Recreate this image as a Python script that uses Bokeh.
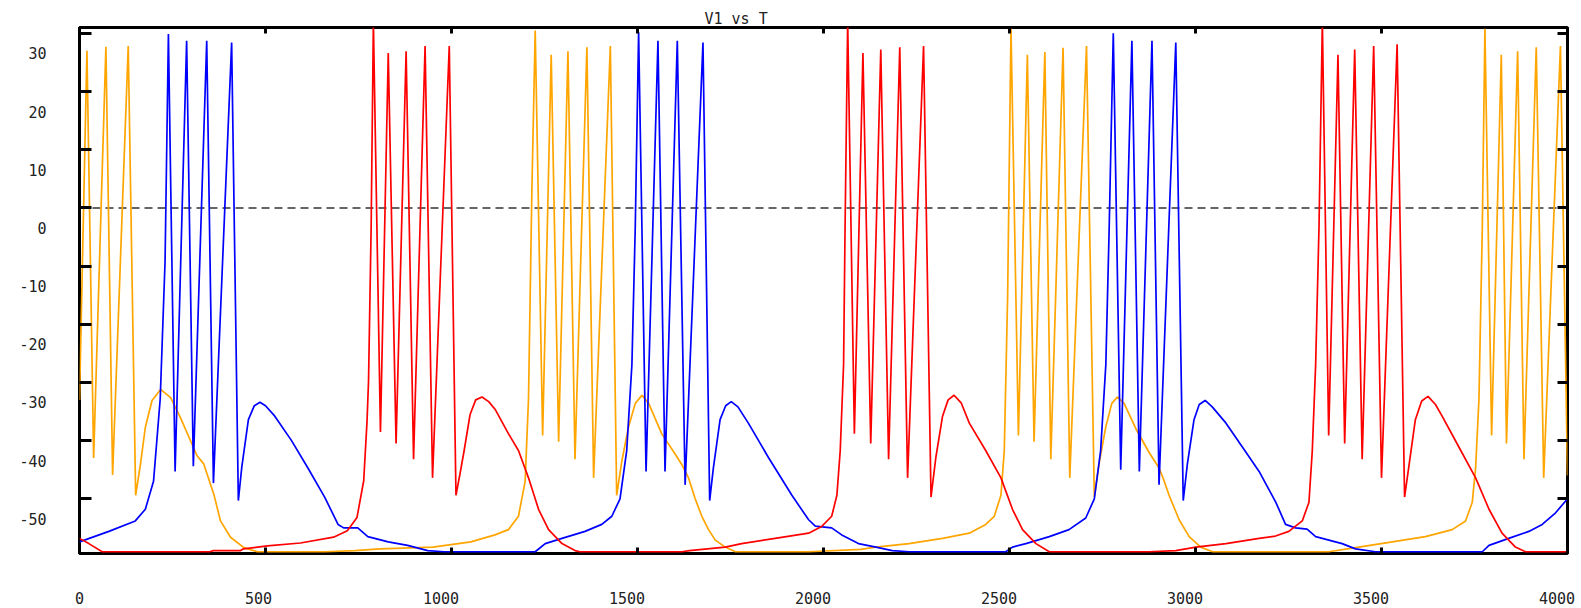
from bokeh.plotting import figure
from bokeh.models import LinearAxis, FixedTicker, Span, Range1d
from bokeh.embed import file_html
from bokeh.resources import INLINE

# ---- data ----
orange_t = [0, 20, 38, 71, 89, 131, 151, 164, 177, 195, 218, 245, 271, 316, 334, 361, 379, 406, 442, 478,
            660, 740, 808, 950, 1052, 1117, 1153, 1180, 1198, 1207, 1216,
            1225, 1245, 1268, 1288, 1313, 1332, 1364, 1382, 1427, 1444,
            1458, 1476, 1494, 1512, 1530, 1565, 1601, 1619, 1637, 1655, 1673, 1691, 1709, 1736, 1763,
            1960, 2100, 2141, 2230, 2320, 2392, 2436, 2459, 2477, 2486, 2495,
            2504, 2524, 2548, 2566, 2595, 2611, 2644, 2662, 2707, 2728,
            2742, 2759, 2775, 2790, 2808, 2840, 2875, 2902, 2915, 2929, 2956, 2983, 3014, 3046,
            3358, 3439, 3529, 3618, 3690, 3726, 3744, 3753, 3762, 3771,
            3778, 3796, 3822, 3836, 3866, 3883, 3916, 3936, 3981, 4000]
orange_v = [-33.0, 27.0, -43.0, 27.7, -45.9, 27.8, -49.4, -44.0, -37.7, -33.1, -31.2, -32.6, -36.0, -42.6, -44.0, -49.2, -53.8, -56.6, -58.4, -59.1,
            -59.1, -58.9, -58.6, -58.3, -57.4, -56.2, -55.3, -53.0, -47.0, -32.8, 2.7,
            30.5, -39.1, 26.3, -40.2, 26.9, -43.2, 27.6, -46.4, 27.8, -49.4,
            -43.5, -37.6, -33.6, -32.2, -33.6, -38.8, -42.3, -44.1, -46.4, -50.0, -53.0, -55.3, -57.1, -58.3, -59.1,
            -59.1, -58.7, -58.3, -57.7, -56.8, -55.9, -54.4, -53.0, -49.4, -41.7, -15.0,
            30.8, -39.1, 26.3, -40.2, 26.8, -43.2, 27.5, -46.4, 27.8, -49.7,
            -43.5, -37.6, -33.6, -32.5, -33.6, -38.0, -42.0, -44.7, -46.8, -49.4, -53.6, -56.5, -58.3, -59.1,
            -59.1, -58.3, -57.4, -56.5, -55.3, -53.8, -50.6, -44.7, -32.8, -3.3,
            30.8, -39.1, 26.3, -40.5, 26.9, -43.2, 27.6, -46.4, 27.8, -46.0]

blue_t = [0, 79, 150, 177, 199, 217, 230, 239, 257, 288, 306, 342, 360, 409, 427,
          436, 454, 470, 485, 500, 525, 570, 614, 659, 695, 710, 748, 775, 830, 882, 936, 980,
          1225, 1252, 1297, 1359, 1404, 1431, 1453, 1471, 1485, 1494,
          1503, 1523, 1555, 1574, 1607, 1628, 1676, 1694,
          1704, 1722, 1737, 1752, 1770, 1798, 1852, 1915, 1960, 1978, 2022, 2049, 2094, 2141, 2185, 2230,
          2490, 2508, 2544, 2607, 2660, 2705, 2728, 2745, 2759, 2768,
          2779, 2799, 2829, 2849, 2883, 2902, 2947, 2967,
          2978, 2996, 3010, 3026, 3045, 3082, 3126, 3171, 3216, 3242, 3269, 3300, 3323, 3394, 3430, 3484,
          3771, 3789, 3842, 3896, 3932, 3968, 4000]
blue_v = [-57.4, -55.6, -53.8, -51.8, -47.0, -32.8, -9.2, 29.9, -45.3, 28.7, -44.4, 28.7, -47.3, 28.4, -50.3,
          -44.7, -36.4, -34.0, -33.4, -34.0, -35.8, -40.0, -44.7, -49.7, -54.4, -55.0, -55.0, -56.5, -57.4, -58.0, -58.9, -59.1,
          -59.1, -57.7, -56.8, -55.6, -54.4, -53.0, -50.0, -41.7, -26.9, -3.3,
          30.2, -45.3, 28.7, -45.3, 28.7, -47.6, 28.4, -50.3,
          -44.7, -36.4, -34.0, -33.3, -34.2, -37.0, -42.9, -49.4, -53.6, -54.7, -55.0, -56.2, -57.7, -58.3, -58.9, -59.1,
          -59.1, -58.3, -57.7, -56.5, -55.3, -53.3, -50.0, -41.7, -26.9, -3.3,
          30.0, -45.0, 28.7, -45.3, 28.7, -47.6, 28.4, -50.3,
          -44.1, -36.4, -33.8, -33.1, -34.2, -37.0, -41.1, -45.3, -50.6, -54.4, -55.0, -55.2, -56.5, -57.7, -58.6, -59.1,
          -59.1, -58.0, -56.8, -55.6, -54.4, -52.4, -50.0]

red_t = [0, 25, 61, 350, 360, 433, 441, 505, 594, 683, 720, 746, 764, 773, 777, 784,
         790, 809, 830, 851, 878, 898, 929, 949, 994, 1012,
         1022, 1034, 1050, 1065, 1082, 1100, 1117, 1153, 1180, 1207, 1234, 1261, 1297, 1332, 1345,
         1619, 1640, 1736, 1780, 1870, 1960, 1996, 2022, 2036, 2045, 2054, 2058,
         2065, 2083, 2106, 2127, 2154, 2175, 2205, 2226, 2269, 2289,
         2302, 2320, 2335, 2351, 2370, 2392, 2436, 2477, 2508, 2535, 2571, 2607,
         2875, 2947, 3001, 3082, 3171, 3215, 3251, 3287, 3305, 3314, 3323, 3332,
         3341, 3358, 3383, 3401, 3428, 3448, 3479, 3500, 3542, 3562,
         3573, 3591, 3608, 3625, 3645, 3663, 3708, 3753, 3789, 3824, 3860, 3887, 4000]
red_v = [-56.8, -57.7, -59.1, -59.1, -58.9, -58.9, -58.6, -58.1, -57.6, -56.6, -55.5, -53.2, -46.9, -36.6, -29.7, -3.3,
         32.0, -38.5, 26.6, -40.5, 26.9, -43.2, 27.8, -46.4, 27.8, -49.4,
         -46.0, -41.7, -35.5, -33.0, -32.5, -33.3, -34.6, -38.8, -41.7, -46.4, -51.8, -55.3, -57.7, -58.9, -59.1,
         -59.1, -58.9, -58.3, -57.7, -56.8, -55.9, -54.7, -53.0, -49.4, -41.7, -26.9, -3.3,
         32.0, -38.8, 26.6, -40.5, 27.2, -43.2, 27.6, -46.4, 27.8, -49.7,
         -42.9, -35.8, -33.0, -32.2, -33.5, -37.0, -41.7, -46.4, -51.8, -55.3, -57.7, -59.1,
         -59.1, -58.9, -58.3, -57.7, -56.8, -56.4, -55.6, -53.8, -50.6, -41.7, -26.9, -3.3,
         32.0, -39.1, 26.3, -40.5, 27.2, -43.2, 27.8, -46.4, 28.1, -49.7,
         -44.7, -36.4, -33.2, -32.4, -33.8, -35.8, -41.1, -46.4, -51.8, -55.9, -58.3, -59.1, -59.1]

x_ticks = [0, 500, 1000, 1500, 2000, 2500, 3000, 3500, 4000]
x_tick_labels = ["0", "500", "1000", "1500", "2000", "2500", "3000", "3500", "4000"]
y_ticks = [-50, -40, -30, -20, -10, 0, 10, 20, 30]
y_tick_labels = ["-50", "-40", "-30", "-20", "-10", "0", "10", "20", "30"]
title_text = "V1 vs T"

FONT = "DejaVu Sans Mono"
FSIZE = "15px"
TXT = "#222222"

X0, X1 = 0, 4000
Y0, Y1 = -59.4, 31.0
FRAME_W, FRAME_H = 1488, 526
p = figure(width=1581, height=608,
           x_range=Range1d(X0, X1), y_range=Range1d(Y0, Y1),
           output_backend="svg", toolbar_location=None,
           min_border_left=79, min_border_right=14, min_border_top=27, min_border_bottom=55,
           title=title_text)
p.grid.visible = False
p.background_fill_color = "white"
p.border_fill_color = "white"
p.outline_line_color = "black"
p.outline_line_width = 3
p.outline_line_alpha = 1.0

p.title.text_font = FONT
p.title.text_font_size = FSIZE
p.title.text_font_style = "normal"
p.title.text_color = TXT
p.title.align = "left"
p.title.offset = 625
p.title.standoff = 0

common_off = dict(minor_tick_line_color=None, axis_line_color=None)

# bottom axis: inward ticks only
xa = p.xaxis[0]
xa.ticker = FixedTicker(ticks=x_ticks)
xa.major_tick_in = 6
xa.major_tick_out = 0
xa.major_tick_line_width = 3
xa.minor_tick_line_color = None
xa.axis_line_color = None
xa.major_label_overrides = {t: "" for t in x_ticks}
xa.major_label_standoff = 0

# second bottom axis carrying the labels, nudged left as in the original (longer labels further left)
x_label_pos = [round(t - 3.5 * (len(l) - 1) * (X1 - X0) / FRAME_W, 3)
               for t, l in zip(x_ticks, x_tick_labels)]
xlab_ax = LinearAxis(ticker=FixedTicker(ticks=x_label_pos),
                     major_label_overrides={pos: l for pos, l in zip(x_label_pos, x_tick_labels)},
                     major_tick_in=0, major_tick_out=0, major_tick_line_color=None,
                     major_label_standoff=38, major_label_text_font=FONT,
                     major_label_text_font_size=FSIZE, major_label_text_color=TXT, **common_off)
p.add_layout(xlab_ax, "below")

# left axis: inward ticks only
ya = p.yaxis[0]
ya.ticker = FixedTicker(ticks=y_ticks)
ya.major_tick_in = 12
ya.major_tick_out = 0
ya.major_tick_line_width = 3
ya.minor_tick_line_color = None
ya.axis_line_color = None
ya.major_label_overrides = {t: "" for t in y_ticks}
ya.major_label_standoff = 0

# second left axis carrying the tick labels, which the original draws ~20px below each tick
shift = 20 * (Y1 - Y0) / FRAME_H
y_label_pos = [round(v - shift, 4) for v in y_ticks]
ylab_ax = LinearAxis(ticker=FixedTicker(ticks=y_label_pos),
                     major_label_overrides={pos: l for pos, l in zip(y_label_pos, y_tick_labels)},
                     major_tick_in=0, major_tick_out=0, major_tick_line_color=None,
                     major_label_standoff=33, major_label_text_font=FONT,
                     major_label_text_font_size=FSIZE, major_label_text_color=TXT, **common_off)
p.add_layout(ylab_ax, "left")

top_ax = LinearAxis(ticker=FixedTicker(ticks=x_ticks), major_tick_in=6, major_tick_out=0,
                    major_tick_line_width=3,
                    major_label_overrides={t: "" for t in x_ticks}, major_label_standoff=0, **common_off)
p.add_layout(top_ax, "above")
right_ax = LinearAxis(ticker=FixedTicker(ticks=y_ticks), major_tick_in=10, major_tick_out=0,
                      major_tick_line_width=3,
                      major_label_overrides={t: "" for t in y_ticks}, major_label_standoff=0, **common_off)
p.add_layout(right_ax, "right")

# zero axis (dashed)
p.add_layout(Span(location=0, dimension="width", line_color="#333333",
                  line_width=1.5, line_dash="8 5", level="underlay"))

p.line(orange_t, orange_v, line_color="#FFA500", line_width=1.7)
p.line(blue_t, blue_v, line_color="#0000FF", line_width=1.7)
p.line(red_t, red_v, line_color="#FF0000", line_width=1.7)

open("out.html", "w").write(file_html(p, INLINE))
